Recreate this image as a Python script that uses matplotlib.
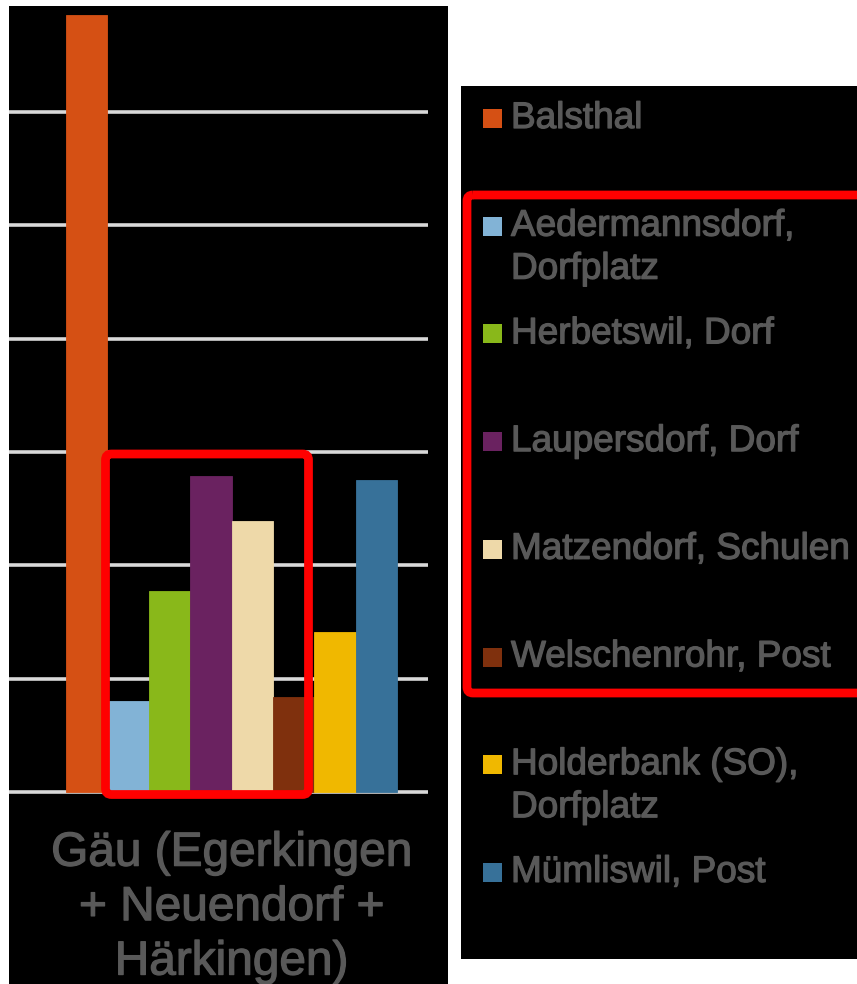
#!/usr/bin/env python

import matplotlib.pyplot as plt
import matplotlib.patheffects as pe
from matplotlib.patches import Rectangle, FancyBboxPatch

# values (gridline units)
stations = ["Balsthal", "Aedermannsdorf,\nDorfplatz", "Herbetswil, Dorf",
            "Laupersdorf, Dorf", "Matzendorf, Schulen", "Welschenrohr, Post",
            "Holderbank (SO),\nDorfplatz", "Mümliswil, Post"]
values = [6.86, 0.80, 1.77, 2.79, 2.39, 0.84, 1.41, 2.75]
colors = ["#D55014", "#82B3D6", "#89B81A", "#6A2260",
          "#EED9A9", "#7F300D", "#F0B800", "#377199"]
category = "Gäu (Egerkingen\n+ Neuendorf +\nHärkingen)"
grid_levels = [0, 1, 2, 3, 4, 5, 6]

W, H = 857, 984
TEXT = "#595959"
plt.rcParams['font.family'] = ['Liberation Sans', 'DejaVu Sans']
thick = [pe.withStroke(linewidth=0.9, foreground=TEXT)]

fig = plt.figure(figsize=(W / 100, H / 100), dpi=100)
fig.patch.set_facecolor("white")


def px_axes(x0, y0, x1, y1):
    return [x0 / W, 1 - y1 / H, (x1 - x0) / W, (y1 - y0) / H]


def pixel_overlay(z):
    a = fig.add_axes([0, 0, 1, 1], zorder=z)
    a.set_xlim(0, W)
    a.set_ylim(H, 0)
    a.axis("off")
    a.patch.set_visible(False)
    return a


# background panels and legend in pixel coordinates
back = pixel_overlay(0)
back.add_patch(Rectangle((9, 6), 439, H - 6, color="black", lw=0))
back.add_patch(Rectangle((461, 86), W - 461, 873, color="black", lw=0))

# main plot area
px_per_unit = 113.3
px_per_bar = 41.375
ymin = -0.05
ymax = (792 - 6) / px_per_unit
ax = fig.add_axes(px_axes(9, 6, 428, 792 - ymin * px_per_unit), zorder=1)
ax.set_facecolor("none")
xs = list(range(len(values)))
ax.bar(xs, values, width=1.0, color=colors, edgecolor=colors, linewidth=0.6, zorder=2)
ax.set_xlim(-0.5 - (66 - 9) / px_per_bar, -0.5 + (428 - 66) / px_per_bar)
ax.set_ylim(ymin, ymax)
ax.set_yticks(grid_levels)
ax.yaxis.grid(True, color="#D9D9D9", linewidth=2.6, zorder=1)
ax.tick_params(left=False, bottom=False, labelleft=False, labelbottom=False)
for s in ax.spines.values():
    s.set_visible(False)

# category label below the bars
ax.text((len(values) - 1) / 2, ymin - (830 - 797) / px_per_unit, category,
        ha="center", va="top", color=TEXT, fontsize=34.4,
        linespacing=1.27, transform=ax.transData, clip_on=False,
        path_effects=thick)

# legend drawn by hand
base0, step, line_step = 128, 107.7, 43
for i, (lab, c) in enumerate(zip(stations, colors)):
    yb = base0 + step * i
    back.add_patch(Rectangle((483, yb - 19), 19, 19, color=c, lw=0))
    for k, line in enumerate(lab.split("\n")):
        back.text(511, yb + k * line_step, line, color=TEXT, fontsize=26.6,
                  ha="left", va="baseline", path_effects=thick)

# red highlight boxes on top of everything
top = pixel_overlay(5)
top.add_patch(FancyBboxPatch((105.5, 454), 203, 340.5,
                             boxstyle="round,pad=0,rounding_size=6",
                             fill=False, ec="#FF0000", lw=6.3))
top.add_patch(FancyBboxPatch((467, 195), 400, 498,
                             boxstyle="round,pad=0,rounding_size=6",
                             fill=False, ec="#FF0000", lw=6.3))

fig.savefig("out.png", dpi=100)
